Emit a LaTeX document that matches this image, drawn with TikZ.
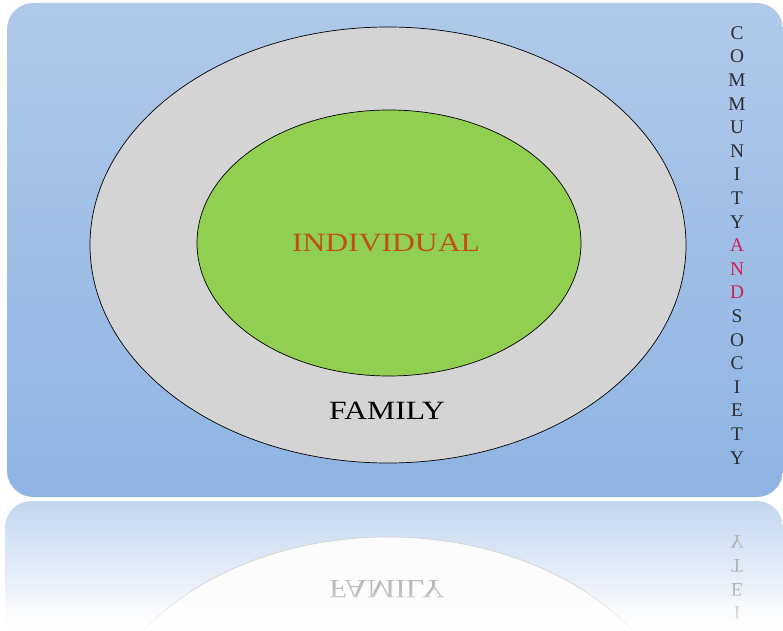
\documentclass[tikz,border=0pt]{standalone}
\usepackage{fontspec}
\setmainfont{Liberation Serif}
\usetikzlibrary{positioning,fadings}
\definecolor{boxtop}{RGB}{176,201,234}
\definecolor{boxbottom}{RGB}{142,180,227}
\definecolor{famcolor}{RGB}{212,212,212}
\definecolor{indcolor}{RGB}{144,207,80}
\definecolor{indtext}{RGB}{190,80,22}
\definecolor{andcolor}{RGB}{205,32,88}
\definecolor{lettercolor}{RGB}{45,45,50}
\definecolor{mirrortop}{RGB}{195,214,239}
\newcommand{\wideword}[1]{\scalebox{1.2}[1]{#1}}

\begin{document}
\begin{tikzpicture}[x=0.02cm, y=-0.02cm,
    bigword/.style={font=\fontsize{15}{15}\selectfont, inner sep=0pt},
    sideletter/.style={font=\fontsize{11}{11}\selectfont, inner sep=0pt}]
  \useasboundingbox (0,0) rectangle (783,631);
  % main panel
  \shade[top color=boxtop, bottom color=boxbottom, rounded corners=15pt]
    (7,3) rectangle (783,497);
  \draw[fill=famcolor, thin] (388,245) ellipse (298 and 218);
  \draw[fill=indcolor, thin] (389,243) ellipse (192 and 133);
  \node[bigword, text=indtext] (individual) at (386,243) {\wideword{INDIVIDUAL}};
  \node[bigword, text=black] (family) at (387,411) {\wideword{FAMILY}};
  % community and society, one letter under the other
  \foreach \ch/\col [count=\i from 0] in {C/lettercolor,O/lettercolor,M/lettercolor,
      M/lettercolor,U/lettercolor,N/lettercolor,I/lettercolor,T/lettercolor,
      Y/lettercolor,A/andcolor,N/andcolor,D/andcolor,S/lettercolor,O/lettercolor,
      C/lettercolor,I/lettercolor,E/lettercolor,T/lettercolor,Y/lettercolor}
    \node[sideletter, text=\col] (side\i) at (737,{33+23.6*\i}) {\ch};
  % reflection under the panel
  \begin{scope}
    \clip[rounded corners=15pt] (5,501) rectangle (783,660);
    \shade[top color=mirrortop, bottom color=white] (5,501) rectangle (783,631);
    \begin{scope}[shift={(0,1000)}, yscale=-1]
      \draw[fill=white!94!red!60!famcolor!10, draw=gray!35] (388,245) ellipse (298 and 218);
      \node[bigword, text=gray!55, transform shape] (mfamily) at (387,411) {\wideword{FAMILY}};
      \foreach \ch [count=\i from 15] in {I,E,T,Y}
        \node[sideletter, text=gray!60, transform shape] (mside\i) at (737,{33+23.6*\i}) {\ch};
    \end{scope}
    \fill[white, path fading=north] (0,585) rectangle (783,640);
  \end{scope}
\end{tikzpicture}
\end{document}
